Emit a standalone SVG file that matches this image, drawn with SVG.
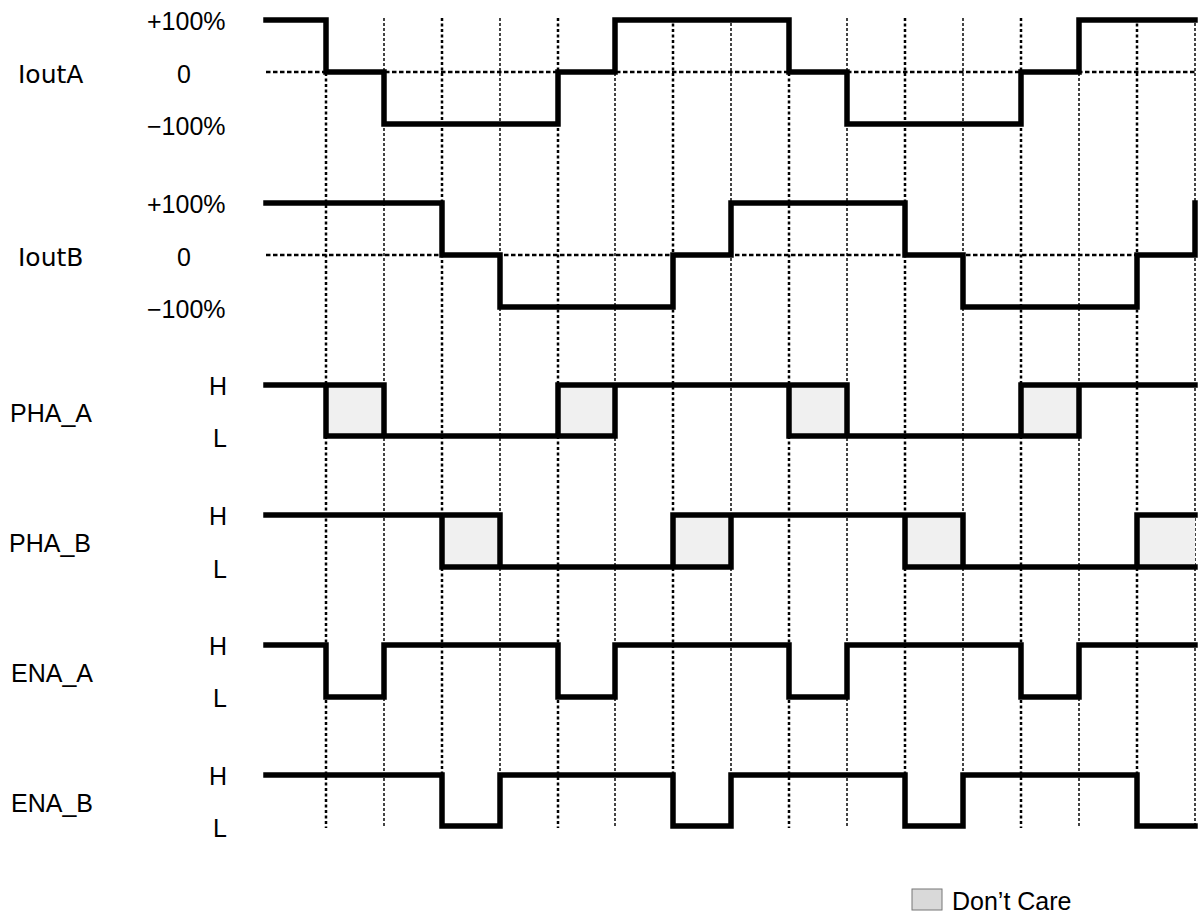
<svg xmlns="http://www.w3.org/2000/svg" width="1200" height="920" viewBox="0 0 1200 920">
<style>
text{font-family:"Liberation Sans",Arial,sans-serif;font-size:25px;fill:#000}
.nm{font-family:"DejaVu Sans","Liberation Sans",sans-serif}
.w{fill:none;stroke:#000;stroke-width:5.5;stroke-linecap:square;stroke-linejoin:miter}
.gA{stroke:#000;stroke-width:2.5;stroke-dasharray:3 2.5}
.gB{stroke:#444;stroke-width:2;stroke-dasharray:3 2}
.z{stroke:#000;stroke-width:2.5;stroke-dasharray:4.5 2.5}
.dc{fill:#f0f0f0;stroke:none}
</style>
<rect width="1200" height="920" fill="#fff"/>
<g id="grid">
<line class="gA" x1="326" y1="18" x2="326" y2="828"/>
<line class="gB" x1="384" y1="18" x2="384" y2="828"/>
<line class="gA" x1="442" y1="18" x2="442" y2="828"/>
<line class="gB" x1="500" y1="18" x2="500" y2="828"/>
<line class="gA" x1="558" y1="18" x2="558" y2="828"/>
<line class="gB" x1="615" y1="18" x2="615" y2="828"/>
<line class="gA" x1="673" y1="18" x2="673" y2="828"/>
<line class="gB" x1="731" y1="18" x2="731" y2="828"/>
<line class="gA" x1="789" y1="18" x2="789" y2="828"/>
<line class="gB" x1="847" y1="18" x2="847" y2="828"/>
<line class="gA" x1="905" y1="18" x2="905" y2="828"/>
<line class="gB" x1="963" y1="18" x2="963" y2="828"/>
<line class="gA" x1="1021" y1="18" x2="1021" y2="828"/>
<line class="gB" x1="1079" y1="18" x2="1079" y2="828"/>
<line class="gA" x1="1137" y1="18" x2="1137" y2="828"/>
<line class="gB" x1="1195" y1="18" x2="1195" y2="828"/>
<line class="z" x1="266" y1="72" x2="1195" y2="72"/>
<line class="z" x1="266" y1="255" x2="1195" y2="255"/>
</g>
<g id="ioutA">
<text class="nm" x="18" y="83">IoutA</text>
<text x="147" y="30">+100%</text>
<text x="177" y="83">0</text>
<text x="147" y="135">−100%</text>
<path class="w" d="M266,20 H326 V72 H384 V124 H558 V72 H615 V20 H789 V72 H847 V124 H1021 V72 H1079 V20 H1195"/>
</g>
<g id="ioutB">
<text class="nm" x="18" y="266">IoutB</text>
<text x="147" y="213">+100%</text>
<text x="177" y="266">0</text>
<text x="147" y="318">−100%</text>
<path class="w" d="M266,203 H442 V255 H500 V307 H673 V255 H731 V203 H905 V255 H963 V307 H1137 V255 H1195 V203"/>
</g>
<g id="phaA">
<text x="10" y="422">PHA_A</text>
<text x="209" y="395">H</text>
<text x="213" y="447">L</text>
<rect class="dc" x="326" y="385" width="58" height="51"/>
<rect class="dc" x="558" y="385" width="57" height="51"/>
<rect class="dc" x="789" y="385" width="58" height="51"/>
<rect class="dc" x="1021" y="385" width="58" height="51"/>
<path class="w" d="M266,385 H384 M326,385 V436 M384,385 V436 M326,436 H615 M558,436 V385 M615,436 V385 M558,385 H847 M789,385 V436 M847,385 V436 M789,436 H1079 M1021,436 V385 M1079,436 V385 M1021,385 H1195"/>
</g>
<g id="phaB">
<text x="9" y="552">PHA_B</text>
<text x="209" y="525">H</text>
<text x="213" y="578">L</text>
<rect class="dc" x="442" y="515" width="58" height="52"/>
<rect class="dc" x="673" y="515" width="58" height="52"/>
<rect class="dc" x="905" y="515" width="58" height="52"/>
<rect class="dc" x="1137" y="515" width="58" height="52"/>
<path class="w" d="M266,515 H500 M442,515 V567 M500,515 V567 M442,567 H731 M673,567 V515 M731,567 V515 M673,515 H963 M905,515 V567 M963,515 V567 M905,567 H1195 M1137,567 V515 H1195"/>
</g>
<g id="enaA">
<text x="11" y="682">ENA_A</text>
<text x="209" y="655">H</text>
<text x="213" y="707">L</text>
<path class="w" d="M266,645 H326 V697 H384 V645 H558 V697 H615 V645 H789 V697 H847 V645 H1021 V697 H1079 V645 H1195"/>
</g>
<g id="enaB">
<text x="11" y="812">ENA_B</text>
<text x="209" y="785">H</text>
<text x="213" y="837">L</text>
<path class="w" d="M266,775 H442 V826 H500 V775 H673 V826 H731 V775 H905 V826 H963 V775 H1137 V826 H1195"/>
</g>
<g id="legend">
<rect x="912" y="889" width="30" height="21" fill="#d9d9d9" stroke="#777" stroke-width="1"/>
<text x="952" y="910">Don’t Care</text>
</g>
</svg>
